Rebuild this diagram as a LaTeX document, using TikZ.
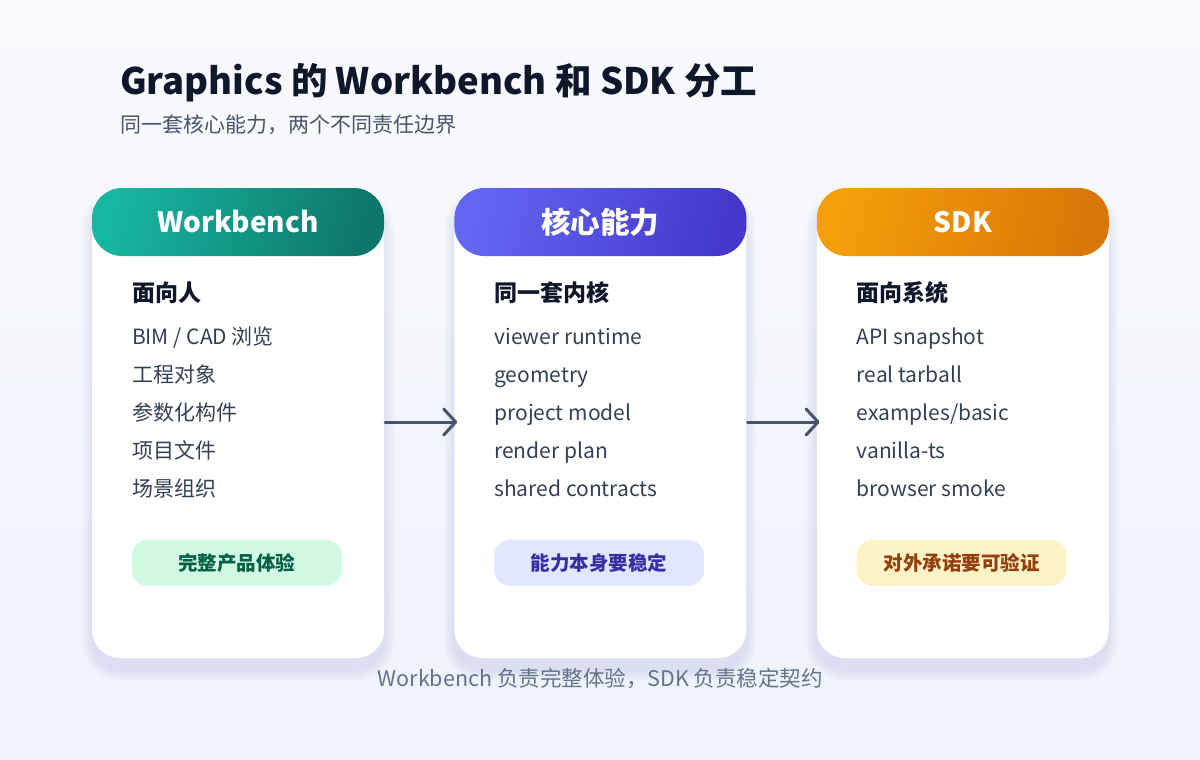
\documentclass[tikz,border=0pt]{standalone}
\usepackage{fontspec}
\setmainfont{Noto Sans CJK SC}
\usepackage{xcolor}
\usetikzlibrary{positioning, arrows.meta}

\definecolor{bgtop}{HTML}{F9FAFD}
\definecolor{bgbot}{HTML}{EEF2FB}
\definecolor{ink}{HTML}{0F172A}
\definecolor{slate}{HTML}{334155}
\definecolor{subgray}{HTML}{475569}
\definecolor{notegray}{HTML}{64748B}
\definecolor{shadowc}{HTML}{94A3C8}
\definecolor{tealA}{HTML}{17B6A1}
\definecolor{tealB}{HTML}{0E776B}
\definecolor{indA}{HTML}{6366F1}
\definecolor{indB}{HTML}{4338CA}
\definecolor{ambA}{HTML}{F59E0B}
\definecolor{ambB}{HTML}{D97706}
\definecolor{greenfill}{HTML}{D1FAE5}
\definecolor{greentext}{HTML}{065F46}
\definecolor{indfill}{HTML}{E0E7FF}
\definecolor{indtext}{HTML}{3730A3}
\definecolor{ambfill}{HTML}{FEF3C7}
\definecolor{ambtext}{HTML}{92400E}

\begin{document}
\begin{tikzpicture}[x=1pt, y=-1pt]
\tikzstyle{card} = [rectangle, fill=white, rounded corners=28pt, minimum width=292pt, minimum height=470pt, inner sep=0pt]
\tikzstyle{header} = [rectangle, rounded corners=30pt, minimum width=292pt, minimum height=68pt, anchor=north, text=white, font=\fontsize{28}{32}\selectfont\bfseries]
\tikzstyle{heading} = [inner sep=0pt, text=ink, font=\fontsize{23}{27}\selectfont\bfseries]
\tikzstyle{item} = [inner sep=0pt, text=slate, font=\fontsize{21}{25}\selectfont]
\tikzstyle{pill} = [rectangle, rounded corners=16pt, minimum width=210pt, minimum height=46pt, font=\fontsize{19.5}{23}\selectfont\bfseries]
\tikzstyle{flow} = [line width=3pt, draw=subgray, line cap=round, -{Straight Barb[length=12pt, width=26pt, line cap=round, round]}]

\useasboundingbox (0,0) rectangle (1200,760);
\shade[top color=bgtop, bottom color=bgbot] (0,0) rectangle (1200,760);

% soft card shadows
\foreach \cx in {92, 454, 816} {
  \foreach \i in {1,...,10}
    \fill[shadowc, opacity=0.02, rounded corners={(28+\i)*1pt}]
      (\cx-\i, 200-\i) rectangle (\cx+292+\i, 670+\i);
}

% title
\node (title) [anchor=base west, inner sep=0pt, text=ink, font=\fontsize{36.5}{42}\selectfont\bfseries] at (120,95) {Graphics 的 Workbench 和 SDK 分工};
\node (subtitle) [inner sep=0pt, text=subgray, font=\fontsize{21}{25}\selectfont, below=37pt of title.base west, anchor=base west] {同一套核心能力，两个不同责任边界};

% cards
\node (wb) [card] at (238,423) {};
\node (core) [card, right=70pt of wb] {};
\node (sdk) [card, right=70pt of core] {};

\node (wbh) [header, left color=tealA, right color=tealB, shading angle=75] at (wb.north) {Workbench};
\node (coreh) [header, left color=indA, right color=indB, shading angle=75, font=\fontsize{29.5}{33}\selectfont\bfseries] at (core.north) {核心能力};
\node (sdkh) [header, left color=ambA, right color=ambB, shading angle=75] at (sdk.north) {SDK};

% Workbench column
\node (wb0) [heading, anchor=base west] at ([xshift=40pt, yshift=-114pt]wb.north west) {面向人};
\node (wb1) [item, below=43pt of wb0.base west, anchor=base west] {BIM / CAD 浏览};
\node (wb2) [item, below=38pt of wb1.base west, anchor=base west] {工程对象};
\node (wb3) [item, below=38pt of wb2.base west, anchor=base west] {参数化构件};
\node (wb4) [item, below=38pt of wb3.base west, anchor=base west] {项目文件};
\node (wb5) [item, below=38pt of wb4.base west, anchor=base west] {场景组织};
\node (wbp) [pill, fill=greenfill, text=greentext] at ([xshift=145pt, yshift=-375pt]wb.north west) {完整产品体验};

% core column
\node (co0) [heading, anchor=base west] at ([xshift=40pt, yshift=-114pt]core.north west) {同一套内核};
\node (co1) [item, below=43pt of co0.base west, anchor=base west] {viewer runtime};
\node (co2) [item, below=38pt of co1.base west, anchor=base west] {geometry};
\node (co3) [item, below=38pt of co2.base west, anchor=base west] {project model};
\node (co4) [item, below=38pt of co3.base west, anchor=base west] {render plan};
\node (co5) [item, below=38pt of co4.base west, anchor=base west] {shared contracts};
\node (cop) [pill, fill=indfill, text=indtext] at ([xshift=145pt, yshift=-375pt]core.north west) {能力本身要稳定};

% SDK column
\node (sd0) [heading, anchor=base west] at ([xshift=40pt, yshift=-114pt]sdk.north west) {面向系统};
\node (sd1) [item, below=43pt of sd0.base west, anchor=base west] {API snapshot};
\node (sd2) [item, below=38pt of sd1.base west, anchor=base west] {real tarball};
\node (sd3) [item, below=38pt of sd2.base west, anchor=base west] {examples/basic};
\node (sd4) [item, below=38pt of sd3.base west, anchor=base west] {vanilla-ts};
\node (sd5) [item, below=38pt of sd4.base west, anchor=base west] {browser smoke};
\node (sdp) [pill, fill=ambfill, text=ambtext] at ([xshift=145pt, yshift=-375pt]sdk.north west) {对外承诺要可验证};

% arrows
\draw [flow, shorten <=1pt, shorten >=-3pt] ([yshift=1pt]wb.east) -- ([yshift=1pt]core.west);
\draw [flow, shorten <=1pt, shorten >=-3pt] ([yshift=1pt]core.east) -- ([yshift=1pt]sdk.west);

% footer
\node (note) [inner sep=0pt, text=notegray, font=\fontsize{21.5}{25}\selectfont, below=28pt of core.south, anchor=base] {Workbench 负责完整体验，SDK 负责稳定契约};
\end{tikzpicture}
\end{document}
